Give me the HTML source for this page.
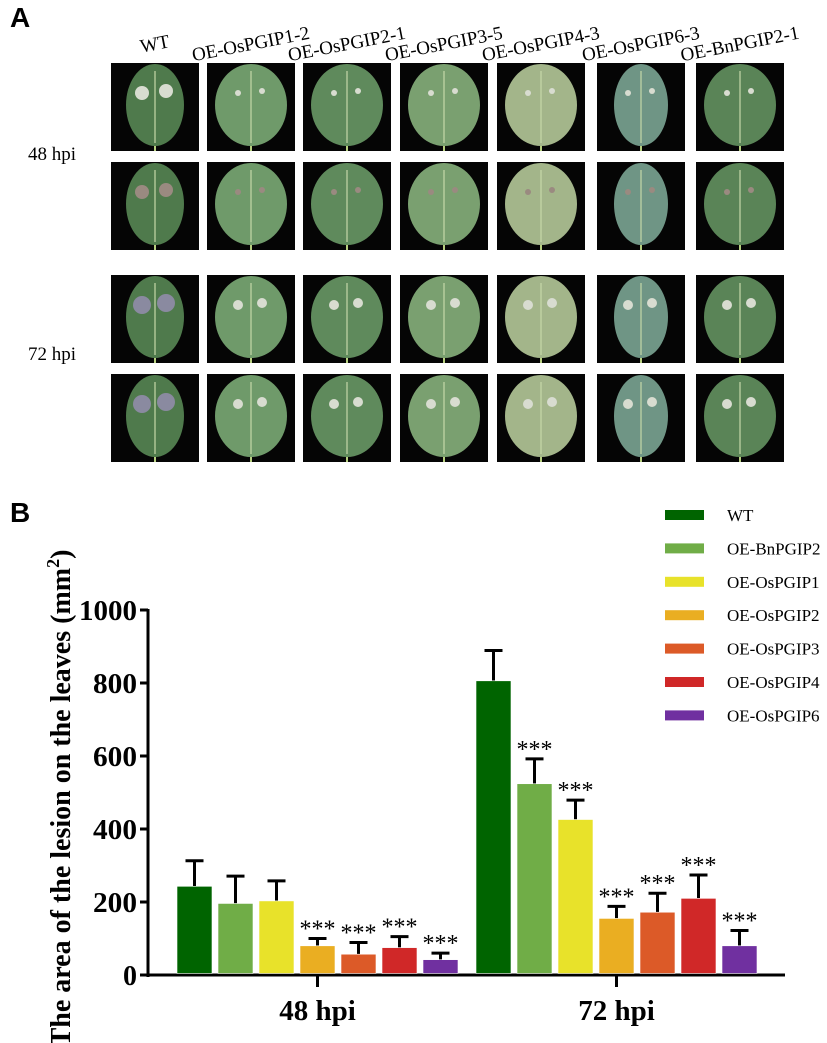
<!DOCTYPE html>
<html><head><meta charset="utf-8"><style>
body{margin:0;background:#fff;width:827px;height:1043px;overflow:hidden;position:relative;font-family:"Liberation Serif",serif}
.abs{position:absolute}
</style></head><body>
<div class="abs" style="left:10px;top:2px;font:bold 28px 'Liberation Sans',sans-serif">A</div>
<div class="abs" style="left:10px;top:497px;font:bold 28px 'Liberation Sans',sans-serif">B</div>
<svg id="photos" class="abs" style="left:0;top:0" width="827" height="470"></svg>
<svg id="chart" class="abs" style="left:0;top:480px" width="827" height="563"></svg>
<script>
const NS="http://www.w3.org/2000/svg";
function mk(p,t,a){const e=document.createElementNS(NS,t);for(const k in a)e.setAttribute(k,a[k]);p.appendChild(e);return e;}
const ph=document.getElementById('photos');
const colLabels=["WT","OE-OsPGIP1-2","OE-OsPGIP2-1","OE-OsPGIP3-5","OE-OsPGIP4-3","OE-OsPGIP6-3","OE-BnPGIP2-1"];
const colX=[111,207,303,400,497,597,696];
const rowY=[63,162,275,374];
const leafCol=["#4f7a4c","#6f9a6a","#5f8a5c","#7aa070","#a3b58a","#6f9585","#5a8457"];
colLabels.forEach((l,i)=>{
  const t=mk(ph,'text',{x:colX[i]+44,y:50,'text-anchor':'middle','font-size':19,'font-family':'Liberation Serif, serif',transform:`rotate(-11 ${colX[i]+44} 45)`});
  t.textContent=l;
  
  
  rowY.forEach((y,r)=>{
    const g=mk(ph,'g',{});
    
    
    mk(g,'rect',{x:colX[i],y:y,width:88,height:88,fill:'#050505'});
    const cx=colX[i]+44,cy=y+42;
    const rx=(i==5?27:(i==0?29:36)),ry=41;
    mk(g,'line',{x1:cx,y1:cy+20,x2:cx,y2:y+88,stroke:'#b8d080','stroke-width':2});
    mk(g,'ellipse',{cx:cx,cy:cy,rx:rx,ry:ry,fill:leafCol[i]});
    mk(g,'line',{x1:cx,y1:cy-34,x2:cx,y2:cy+38,stroke:'#c5d8a8','stroke-width':1.2});
    const les=(i==0)?(r<2?7:9):(r>=2?5:3);
    const lc=(i==0&&r>=2)?'#8a8aa0':(r==1?'#9a8a80':'#d8dcd0');
    mk(g,'circle',{cx:cx-13,cy:cy-12,r:les,fill:lc});
    mk(g,'circle',{cx:cx+11,cy:cy-14,r:les,fill:lc});
  });
});
[["48 hpi",160],["72 hpi",360]].forEach(([s,y])=>{
  const t=mk(ph,'text',{x:28,y:y,'font-size':19,'font-family':'Liberation Serif, serif'});t.textContent=s;
  
  
});
</script>
<script>
const groups=["48 hpi","72 hpi"];
const series=["WT","OE-BnPGIP2","OE-OsPGIP1","OE-OsPGIP2","OE-OsPGIP3","OE-OsPGIP4","OE-OsPGIP6"];
const colors=["#006400","#70ad47","#e8e22a","#eaae22","#dc5a28","#d02828","#7030a0"];
const vals48=[243,196,203,80,57,75,42];
const err48=[70,75,55,20,32,30,18];
const vals72=[806,524,426,155,172,210,80];
const err72=[83,68,53,33,52,64,42];
const sig48=[false,false,false,true,true,true,true];
const sig72=[false,true,true,true,true,true,true];
const yTicks=[0,200,400,600,800,1000];
const C=document.getElementById('chart');
const X0=148,XE=785,Y0=495,Y1000=130;
const y=v=>Y0-(v/1000)*(Y0-Y1000);
const groupStart=[177,476],pitch=41,bw=35;
const ax=mk(C,'line',{x1:X0,y1:Y1000-1,x2:X0,y2:Y0+2,stroke:'#000','stroke-width':3});

const xa=mk(C,'line',{x1:X0-2,y1:Y0,x2:XE,y2:Y0,stroke:'#000','stroke-width':3});

yTicks.forEach(v=>{
  mk(C,'line',{x1:X0-8,y1:y(v),x2:X0,y2:y(v),stroke:'#000','stroke-width':3});
  const t=mk(C,'text',{x:X0-11,y:y(v)+10,'text-anchor':'end','font-size':28,'font-weight':'bold','font-family':'Liberation Serif, serif',textLength:(v==0?14:v==1000?58:44),lengthAdjust:'spacingAndGlyphs'});
  t.textContent=v;
  
  
});
[[vals48,err48,sig48],[vals72,err72,sig72]].forEach(([vs,es,sg],gi)=>{
  vs.forEach((v,i)=>{
    const x=groupStart[gi]+i*pitch, cx=x+bw/2, top=y(v+es[i]);
    const e=mk(C,'path',{d:`M${cx} ${y(v)}V${top}M${cx-9} ${top}H${cx+9}`,stroke:'#000','stroke-width':3,fill:'none'});
    
    const b=mk(C,'rect',{x:x,y:y(v),width:bw,height:Y0-y(v)-1.5,fill:colors[i],stroke:'#ffffff','stroke-width':0.6});
    
    if(sg[i]){const s=mk(C,'text',{x:cx,y:top-2,'text-anchor':'middle','font-size':24,'font-family':'Liberation Serif, serif'});s.textContent='***';
      }
  });
  const gc=groupStart[gi]+(7*pitch-(pitch-bw))/2;
  mk(C,'line',{x1:gc,y1:Y0,x2:gc,y2:Y0+12,stroke:'#000','stroke-width':3});
  const t=mk(C,'text',{x:gc,y:Y0+45,'text-anchor':'middle','font-size':29,'font-weight':'bold','font-family':'Liberation Serif, serif'});
  t.textContent=groups[gi];
  
});
const yl=mk(C,'text',{x:0,y:0,'text-anchor':'middle','font-size':28,'font-weight':'bold','font-family':'Liberation Serif, serif',transform:'translate(70,318) rotate(-90)'});
yl.innerHTML='The area of the lesion on the leaves (mm<tspan dy="-11" font-size="18">2</tspan><tspan dy="11">)</tspan>';

series.forEach((s,i)=>{
  const g=mk(C,'g',{});
  
  const ly=35+i*33.4;
  mk(g,'rect',{x:665,y:ly-5,width:39,height:10,fill:colors[i]});
  const t=mk(g,'text',{x:727,y:ly+6,'font-size':17,'font-family':'Liberation Serif, serif'});t.textContent=s;
});
</script>
</body></html>
